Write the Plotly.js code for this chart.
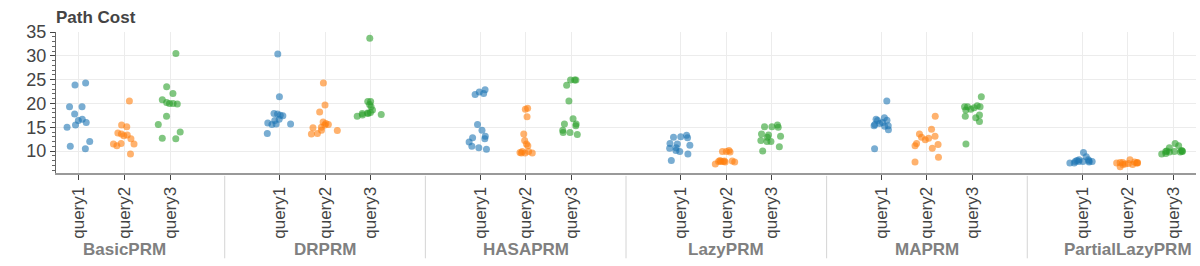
<!DOCTYPE html>
<html>
<head>
<meta charset="utf-8">
<script src="https://cdn.plot.ly/plotly-3.0.1.min.js"></script>
<style>html,body{margin:0;padding:0;background:#fff}#chart{width:1200px;height:266px}</style>
</head>
<body>
<div id="chart"></div>
<script>
const groups = ['BasicPRM', 'DRPRM', 'HASAPRM', 'LazyPRM', 'MAPRM', 'PartialLazyPRM'];
const queries = ['query1', 'query2', 'query3'];
const colors = ['#1f77b4', '#ff7f0e', '#2ca02c'];
const yTicks = [10, 15, 20, 25, 30, 35];

const basicprm_query1 = [23.9, 24.3, 19.3, 19.3, 15.0, 17.8, 16.7, 16.0, 15.5, 16.4, 12.0, 11.0, 10.5];
const basicprm_query2 = [20.5, 15.5, 15.1, 13.4, 13.6, 13.8, 13.2, 12.6, 11.6, 11.5, 11.1, 11.5, 9.4];
const basicprm_query3 = [30.5, 23.5, 22.1, 20.8, 20.0, 19.9, 20.0, 20.2, 17.3, 15.6, 14.0, 12.7, 12.6];

const drprm_query1 = [30.4, 21.4, 17.4, 17.8, 17.5, 17.9, 15.7, 15.6, 15.7, 16.4, 16.7, 15.9, 13.7];
const drprm_query2 = [24.3, 19.7, 18.2, 15.8, 15.6, 15.5, 16.1, 14.9, 15.0, 14.3, 14.4, 13.6, 13.7];
const drprm_query3 = [33.7, 19.8, 19.3, 20.4, 20.4, 18.0, 18.6, 18.1, 17.3, 17.9, 17.9, 17.7, 17.6];

const hasaprm_query1 = [22.9, 22.4, 22.1, 21.9, 15.6, 14.4, 13.1, 12.6, 12.8, 11.9, 11.0, 10.7, 10.4];
const hasaprm_query2 = [19.0, 18.8, 17.2, 13.6, 12.2, 11.5, 11.1, 9.7, 9.6, 9.9, 9.6, 9.6, 9.9];
const hasaprm_query3 = [24.9, 24.9, 24.9, 23.8, 20.5, 16.8, 15.7, 15.7, 15.3, 14.4, 13.5, 13.9, 13.9];

const lazyprm_query1 = [13.0, 12.8, 13.3, 11.2, 11.5, 11.6, 10.7, 10.1, 10.6, 9.9, 9.4, 8.0, 12.9];
const lazyprm_query2 = [9.9, 9.8, 10.1, 9.9, 7.9, 7.7, 7.3, 7.9, 7.8, 7.7, 8.0, 7.8, 7.8];
const lazyprm_query3 = [15.1, 15.1, 15.5, 13.6, 12.9, 13.1, 12.2, 12.0, 12.0, 10.9, 10.0, 13.4, 15.0];

const maprm_query1 = [20.5, 17.0, 16.7, 16.5, 16.4, 15.8, 15.2, 15.6, 15.3, 14.5, 16.0, 10.5, 15.3];
const maprm_query2 = [17.3, 14.6, 13.6, 12.9, 13.1, 12.4, 12.7, 11.6, 11.1, 10.6, 8.7, 7.7, 11.4];
const maprm_query3 = [21.4, 19.3, 19.5, 19.3, 19.1, 18.6, 17.3, 17.6, 17.0, 16.2, 11.5, 19.3, 18.8];

const partiallazyprm_query1 = [9.7, 8.8, 7.8, 7.8, 7.9, 7.7, 7.5, 7.8, 8.2, 8.0, 7.8, 8.2, 7.5];
const partiallazyprm_query2 = [8.2, 7.5, 7.6, 7.2, 7.6, 6.7, 7.5, 7.4, 7.6, 7.7, 7.3, 7.2, 7.5];
const partiallazyprm_query3 = [10.7, 9.4, 11.6, 11.1, 10.0, 10.0, 9.9, 9.8, 9.8, 9.5, 10.1, 9.9, 9.9];

const table = [
  [basicprm_query1, basicprm_query2, basicprm_query3],
  [drprm_query1, drprm_query2, drprm_query3],
  [hasaprm_query1, hasaprm_query2, hasaprm_query3],
  [lazyprm_query1, lazyprm_query2, lazyprm_query3],
  [maprm_query1, maprm_query2, maprm_query3],
  [partiallazyprm_query1, partiallazyprm_query2, partiallazyprm_query3]
];

// factor-range layout: each factor 1 unit wide, groups separated by padding
const groupPad = 1.4;
const groupStride = queries.length + groupPad;
const pos = (g, q) => g * groupStride + q + 0.5;
const xEnd = groups.length * groupStride - groupPad;

const FONT = 'Liberation Sans, Arial, Helvetica, sans-serif';

const traces = queries.map((qn, qi) => {
  const xs = [], ys = [];
  groups.forEach((gn, gi) => {
    table[gi][qi].forEach(v => { xs.push(pos(gi, qi)); ys.push(v); });
  });
  return {
    type: 'box', name: qn, x: xs, y: ys,
    boxpoints: 'all', jitter: 1, pointpos: 0, width: 0.62,
    fillcolor: 'rgba(0,0,0,0)', line: {width: 0, color: 'rgba(0,0,0,0)'},
    whiskerwidth: 0,
    marker: {color: colors[qi], size: 7, opacity: 0.6, line: {width: 0}},
    hoverinfo: 'skip', showlegend: false
  };
});

const tickvals = [], ticktext = [];
groups.forEach((gn, gi) => queries.forEach((qn, qi) => { tickvals.push(pos(gi, qi)); ticktext.push(qn); }));

const annotations = groups.map((gn, gi) => ({
  text: '<b>' + gn + '</b>', x: pos(gi, 1), xref: 'x', y: -0.54, yref: 'paper',
  xanchor: 'center', yanchor: 'middle', showarrow: false,
  font: {family: FONT, size: 17, color: '#808080'}
}));

const shapes = [];
for (let gi = 1; gi < groups.length; gi++) {
  const xm = (pos(gi - 1, queries.length - 1) + pos(gi, 0)) / 2;
  shapes.push({type: 'line', xref: 'x', yref: 'paper', x0: xm, x1: xm, y0: -0.02, y1: -0.605,
    line: {color: '#d4d4d4', width: 1}});
}

const layout = {
  width: 1200, height: 266,
  margin: {l: 56, r: 4, t: 32, b: 93},
  paper_bgcolor: '#fff', plot_bgcolor: '#fff',
  title: {text: '<b>Path Cost</b>', x: 0, xref: 'paper', xanchor: 'left',
    y: 1 - 17 / 266, yref: 'container', yanchor: 'middle',
    font: {family: FONT, size: 17, color: '#444'}},
  xaxis: {
    range: [0, xEnd], tickmode: 'array', tickvals: tickvals, ticktext: ticktext,
    tickangle: -90, ticks: 'outside', ticklen: 5, tickcolor: '#444', tickwidth: 1,
    showline: true, linecolor: '#999', linewidth: 2,
    showgrid: true, gridcolor: '#ececec', gridwidth: 1, zeroline: false,
    tickfont: {family: FONT, size: 17, color: '#444'}, fixedrange: true
  },
  yaxis: {
    range: [5.4, 35], tickmode: 'array', tickvals: yTicks,
    ticks: 'outside', ticklen: 5, tickcolor: '#444', tickwidth: 1,
    minor: {ticks: 'outside', ticklen: 3, dtick: 1, tick0: 0, tickcolor: '#666', showgrid: false},
    showline: true, linecolor: '#666', linewidth: 1,
    showgrid: true, gridcolor: '#ececec', gridwidth: 1, zeroline: false,
    tickfont: {family: FONT, size: 18, color: '#444'}, fixedrange: true
  },
  boxmode: 'overlay',
  annotations: annotations, shapes: shapes,
  showlegend: false
};

Plotly.newPlot('chart', traces, layout, {staticPlot: true, displayModeBar: false});
</script>
</body>
</html>
